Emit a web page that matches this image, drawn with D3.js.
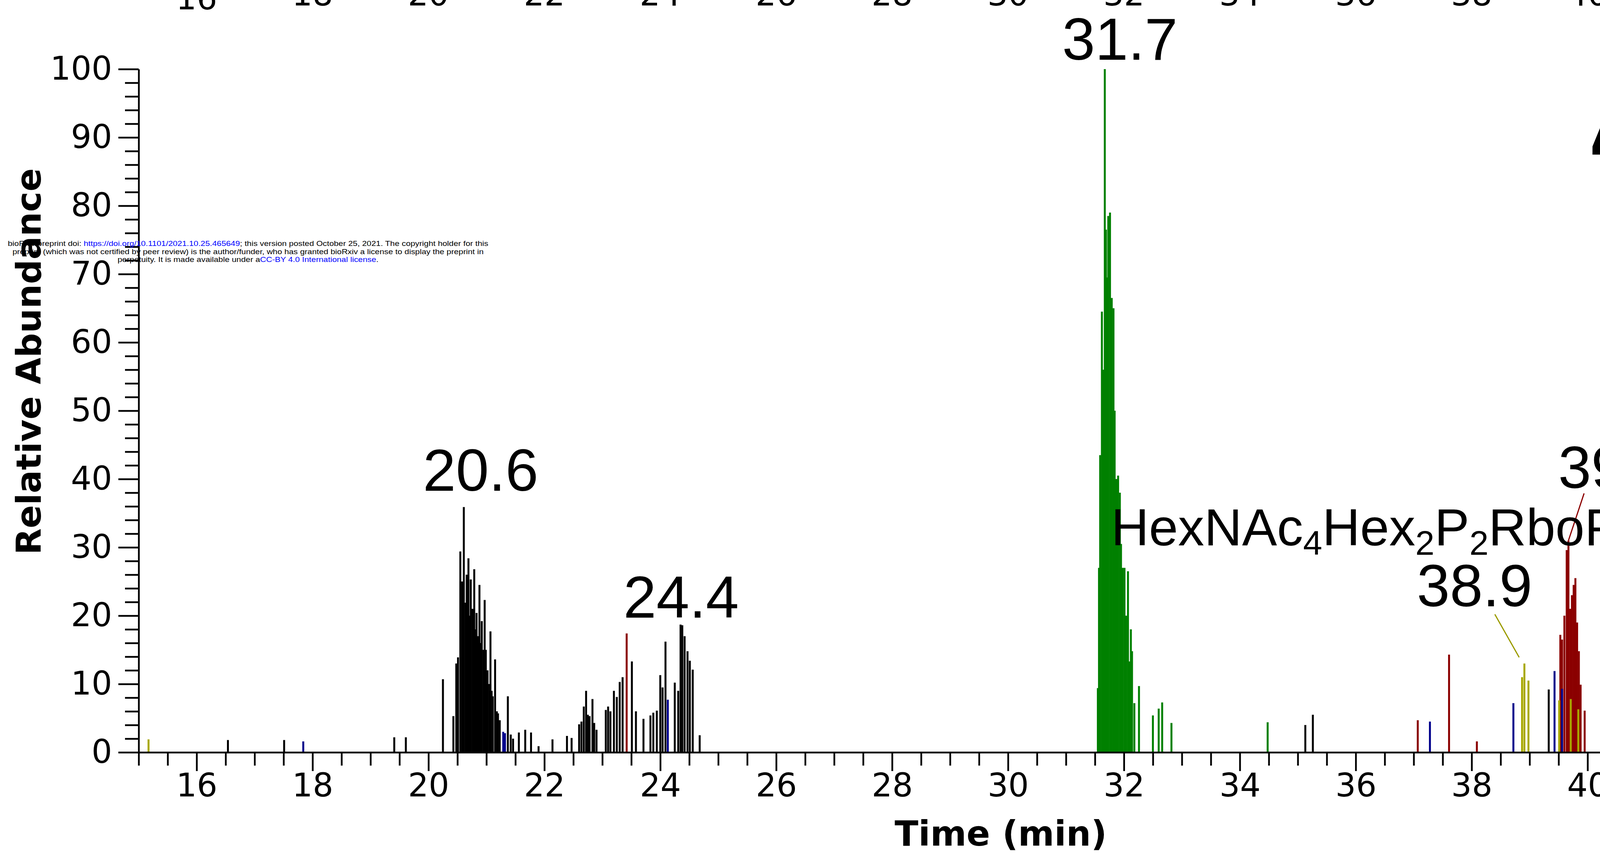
<!DOCTYPE html>
<html><head><meta charset="utf-8">
<script src="https://cdn.jsdelivr.net/npm/d3@7"></script>
<style>html,body{margin:0;padding:0;background:#fff;}svg{display:block;}</style>
</head><body>
<svg id="chart" width="4840" height="2190"></svg>
<script>
// ---------------- data ----------------
const timeDomain = [15, 45];
const abundanceDomain = [0, 100];
const xMajorTicks = [16,18,20,22,24,26,28,30,32,34,36,38,40,42,44];
const yMajorTicks = [0,10,20,30,40,50,60,70,80,90,100];

// [time (min), relative abundance (%)]
const blackSticks = [
  [16.54,1.8],[17.51,1.8],[19.41,2.2],[19.61,2.2],
  [20.25,10.7],[20.43,5.3],[20.48,13.0],[20.51,13.9],[20.55,29.4],[20.58,25],[20.61,35.9],
  [20.64,21.9],[20.66,26],[20.69,28.4],[20.71,20],[20.73,25.3],[20.76,21],[20.79,26.8],
  [20.81,18],[20.83,20.4],[20.86,17],[20.88,24.5],[20.90,16],[20.92,19.2],[20.95,15],
  [20.97,22.3],[20.99,15.0],[21.02,12],[21.05,10],[21.07,17.7],[21.09,9],[21.11,8.2],
  [21.15,13.6],[21.18,6],[21.20,5.7],[21.23,4.7],[21.37,8.2],[21.42,2.6],[21.46,2.0],
  [21.56,2.9],[21.67,3.3],[21.77,2.9],[21.90,0.9],[22.14,1.9],[22.39,2.4],[22.47,2.1],
  [22.60,4.1],[22.64,4.5],[22.68,6.7],[22.72,9.0],[22.75,5.5],[22.78,5.3],[22.83,7.8],
  [22.86,4.3],[22.90,3.3],[23.06,6.2],[23.10,6.7],[23.14,6.0],[23.20,9.0],[23.25,8.1],
  [23.30,10.3],[23.35,11],[23.51,13.3],[23.58,6.0],[23.71,4.9],[23.83,5.4],[23.88,5.8],
  [23.94,6.1],[24.00,11.3],[24.04,9.5],[24.09,16.2],[24.25,10.2],[24.31,9],[24.35,18.7],
  [24.38,18.6],[24.42,17],[24.47,14.8],[24.51,13.4],[24.56,12.1],[24.68,2.5],
  [35.13,4.0],[35.26,5.5],[39.33,9.2],
  [42.33,4.9],[42.39,11.9],[42.42,8.5],[42.46,4.4],[42.50,8.5],[42.61,4.0]
];
const greenSticks = [
  [31.55,9.4],[31.57,27],[31.59,43.5],[31.62,64.5],[31.64,56],[31.67,100],[31.69,76.5],
  [31.71,69.5],[31.73,78.5],[31.76,79],[31.79,66.5],[31.82,65],[31.84,50],[31.87,40],
  [31.90,40.5],[31.93,38],[31.95,30.5],[31.98,27],[32.01,27],[32.04,20],[32.07,26.5],
  [32.09,13.3],[32.12,18],[32.14,14.8],[32.18,7.2],[32.26,9.7],[32.50,5.4],[32.60,6.4],
  [32.66,7.3],[32.82,4.3],[34.48,4.4],[40.70,8.7],[41.84,7.4],[43.96,3.8]
];
const redSticks = [
  [23.42,17.4],[37.07,4.7],[37.61,14.3],[38.09,1.6],
  [39.53,17.2],[39.56,16.5],[39.60,20],[39.64,29.6],[39.67,31],[39.70,21],[39.73,23],
  [39.76,24.5],[39.79,25.5],[39.82,19],[39.85,14.8],[39.88,9.9],[39.95,6.1],[43.81,4.5]
];
const oliveSticks = [
  [15.17,1.9],[38.87,11.0],[38.91,13.0],[38.98,10.5],[39.51,7.6],[39.71,7.8],[39.84,6.3],[40.34,5.7]
];
const blueSticks = [
  [17.84,1.6],[21.29,3.0],[21.32,2.8],[24.13,7.7],[37.28,4.5],[38.72,7.2],[39.43,11.9],[39.56,9.3]
];

// peak labels: text, label centre time, label baseline abundance
const peakLabels = [
  ["20.6",20.90,38.3],["24.4",24.36,19.7],["31.7",31.93,101.4],
  ["39.7",40.49,38.7],["38.9",38.05,21.4],["42.4",42.44,13.0]
];
// leader lines: [t1,v1,t2,v2,colour]
const leaderLines = [
  [39.94,37.9,39.67,31.0,"#8b0000"],
  [38.40,20.2,38.82,13.9,"#9a9a00"]
];
const compositionLabel = {t:31.78, v:30.3,
  parts:[["HexNAc",0],["4",1],["Hex",0],["2",1],["P",0],["2",1],["RboP",0],["1",1]]};

// ---------------- drawing ----------------
const svg = d3.select("#chart");
svg.append("rect").attr("width",4840).attr("height",2190).attr("fill","#fff");

const x = d3.scaleLinear().domain(timeDomain).range([355,4806]);
const y = d3.scaleLinear().domain(abundanceDomain).range([1927,177]);

const tickFont = "'DejaVu Sans', Verdana, sans-serif";
const arial = "'Liberation Sans', Arial, sans-serif";

// cut-off tick labels of the panel above
svg.append("g").selectAll("text").data(xMajorTicks).join("text")
  .attr("x", d=>x(d)).attr("y", (d,i)=> i===0 ? 24 : 14)
  .attr("text-anchor","middle").attr("font-family",tickFont).attr("font-size",83)
  .text(d=>d);

// sticks
const series = [
  [blackSticks,"#000000"],[greenSticks,"#008000"],[redSticks,"#8b0000"],
  [oliveSticks,"#a8a800"],[blueSticks,"#00008b"]
];
const stickG = svg.append("g");
series.forEach(([data,col])=>{
  stickG.append("g").selectAll("line").data(data).join("line")
    .attr("x1",d=>x(d[0])).attr("x2",d=>x(d[0]))
    .attr("y1",y(0)).attr("y2",d=>y(d[1]))
    .attr("stroke",col).attr("stroke-width",5);
});

// x axis
const minorX = d3.range(15,45.01,0.5).filter(v=>Math.abs(v%2)>1e-6);
const gx = svg.append("g").attr("transform",`translate(0,${y(0)})`);
gx.call(d3.axisBottom(x).tickValues(minorX).tickSize(34).tickSizeOuter(0).tickFormat(""));
const gx2 = svg.append("g").attr("transform",`translate(0,${y(0)})`);
gx2.call(d3.axisBottom(x).tickValues(xMajorTicks).tickSize(48).tickSizeOuter(0).tickFormat(d3.format("d")));
gx2.select(".domain").remove();
[gx,gx2].forEach(g=>{
  g.selectAll("path,line").attr("stroke","#000").attr("stroke-width",4.5);
  g.selectAll("text").attr("font-family",tickFont).attr("font-size",83).attr("fill","#000")
    .attr("dy",null).attr("y",113);
});

// y axis
const minorY = d3.range(0,100.1,2).filter(v=>v%10!==0);
const gy = svg.append("g").attr("transform",`translate(${x(15)},0)`);
gy.call(d3.axisLeft(y).tickValues(minorY).tickSize(35).tickSizeOuter(0).tickFormat(""));
const gy2 = svg.append("g").attr("transform",`translate(${x(15)},0)`);
gy2.call(d3.axisLeft(y).tickValues(yMajorTicks).tickSize(52).tickSizeOuter(0).tickPadding(16).tickFormat(d3.format("d")));
gy2.select(".domain").remove();
[gy,gy2].forEach(g=>{
  g.selectAll("path,line").attr("stroke","#000").attr("stroke-width",4.5);
  g.selectAll("text").attr("font-family",tickFont).attr("font-size",83).attr("fill","#000");
});

// axis titles
svg.append("text").attr("x",2562).attr("y",2166).attr("text-anchor","middle")
  .attr("font-family",tickFont).attr("font-weight","bold").attr("font-size",89).text("Time (min)");
svg.append("text").attr("transform","translate(104,926) rotate(-90)").attr("text-anchor","middle")
  .attr("font-family",tickFont).attr("font-weight","bold").attr("font-size",88).text("Relative Abundance");

// leader lines
svg.append("g").selectAll("line").data(leaderLines).join("line")
  .attr("x1",d=>x(d[0])).attr("y1",d=>y(d[1])).attr("x2",d=>x(d[2])).attr("y2",d=>y(d[3]))
  .attr("stroke",d=>d[4]).attr("stroke-width",3);

// peak labels
svg.append("g").selectAll("text").data(peakLabels).join("text")
  .attr("x",d=>x(d[1])).attr("y",d=>y(d[2])).attr("text-anchor","middle")
  .attr("font-family",arial).attr("font-size",152).attr("fill","#000").text(d=>d[0]);

// composition label
const comp = svg.append("text").attr("x",x(compositionLabel.t)).attr("y",y(compositionLabel.v))
  .attr("font-family",arial).attr("font-size",134).attr("fill","#000");
let prevSub = 0;
compositionLabel.parts.forEach(([s,sub])=>{
  const ts = comp.append("tspan").text(s);
  if(sub){ ts.attr("font-size",88).attr("dy",24); }
  else if(prevSub){ ts.attr("dy",-24); }
  prevSub = sub;
});

// sample name & NL
svg.append("text").attr("x",4818).attr("y",396).attr("text-anchor","end")
  .attr("font-family",arial).attr("font-weight","bold").attr("font-size",190).text("\u0394PCYT2");
svg.append("text").attr("x",4818).attr("y",531).attr("text-anchor","end")
  .attr("font-family",arial).attr("font-size",130).text("NL: 3.01e6");

// preprint watermark
const wm = svg.append("g").attr("font-family",arial).attr("font-size",19).attr("text-anchor","middle");
const l1 = wm.append("text").attr("x",635).attr("y",630).attr("textLength",1230).attr("lengthAdjust","spacingAndGlyphs");
l1.append("tspan").text("bioRxiv preprint doi: ");
l1.append("tspan").attr("fill","#0000ff").text("https://doi.org/10.1101/2021.10.25.465649");
l1.append("tspan").text("; this version posted October 25, 2021. The copyright holder for this");
wm.append("text").attr("x",635).attr("y",651).attr("textLength",1206).attr("lengthAdjust","spacingAndGlyphs")
  .text("preprint (which was not certified by peer review) is the author/funder, who has granted bioRxiv a license to display the preprint in");
const l3 = wm.append("text").attr("x",635).attr("y",671).attr("textLength",668).attr("lengthAdjust","spacingAndGlyphs");
l3.append("tspan").text("perpetuity. It is made available under a");
l3.append("tspan").attr("fill","#0000ff").text("CC-BY 4.0 International license");
l3.append("tspan").text(".");
</script>
</body></html>
